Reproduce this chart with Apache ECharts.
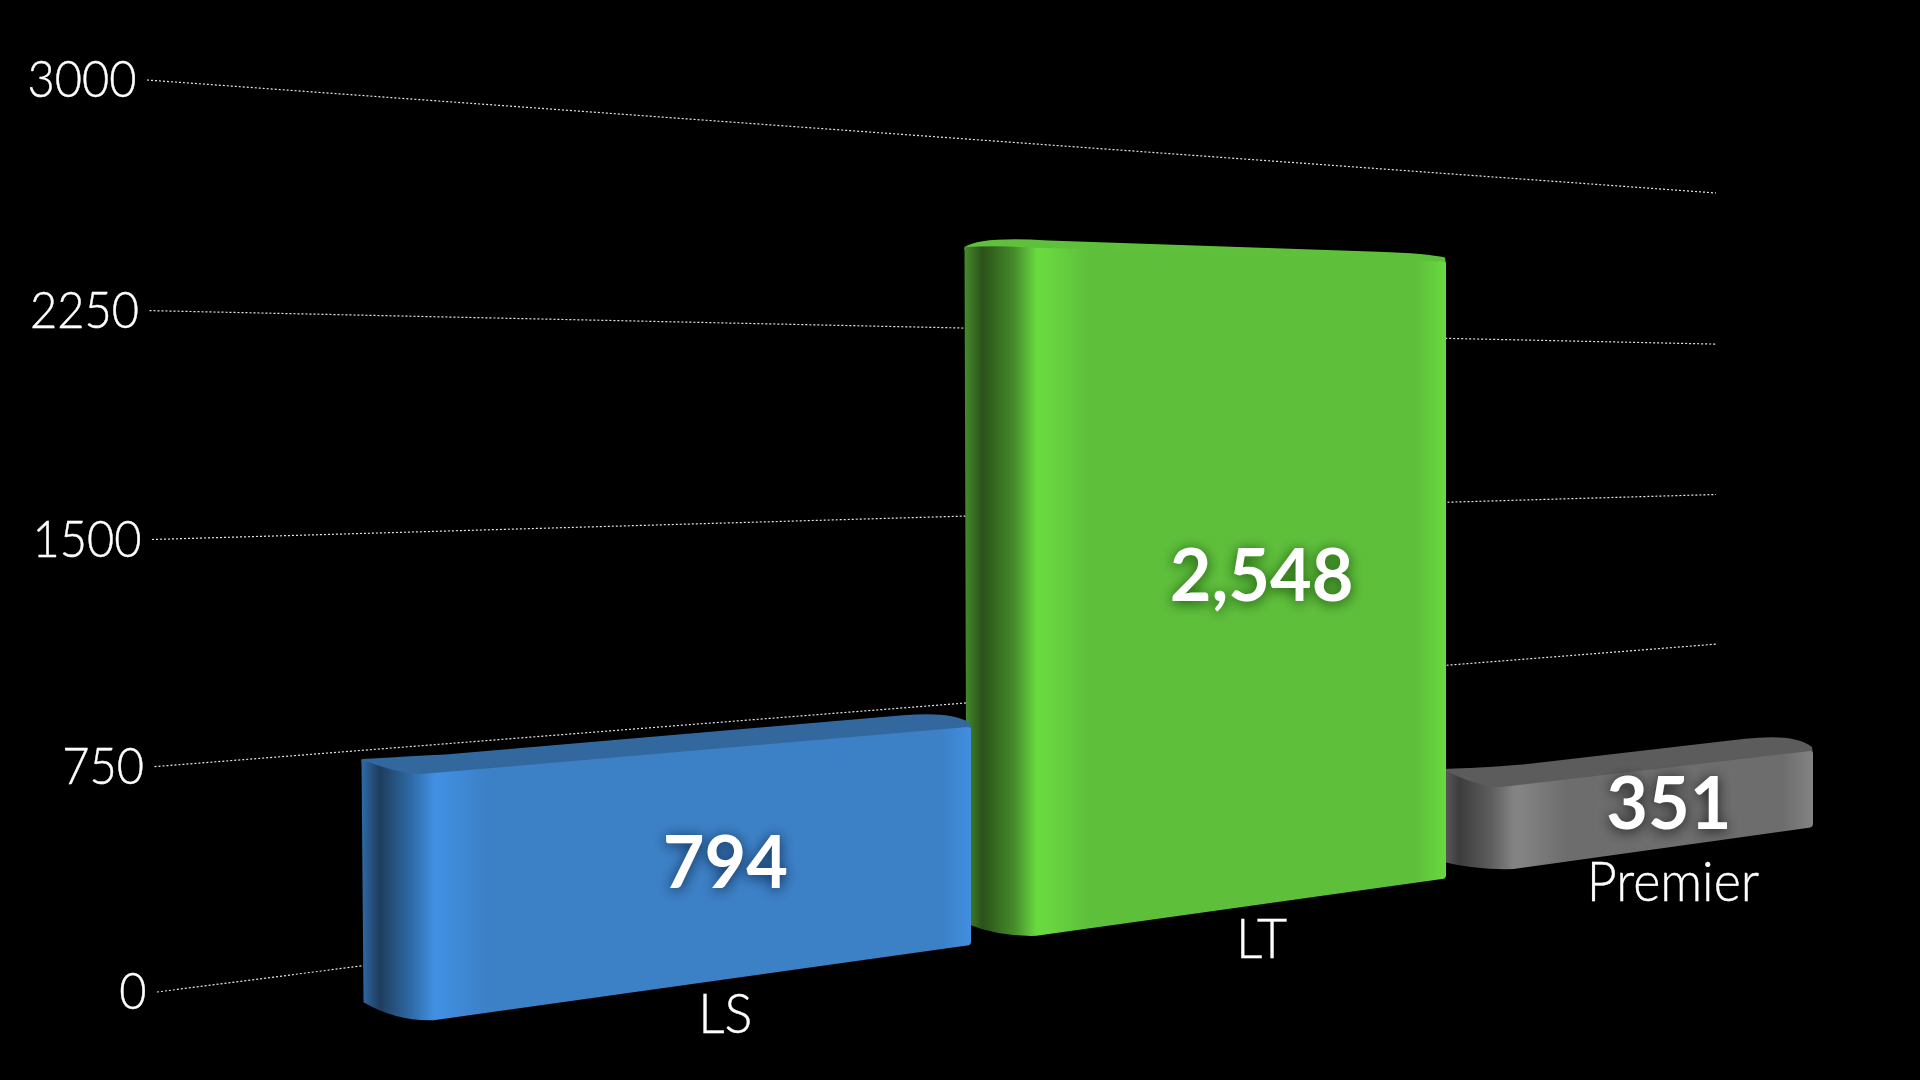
<!DOCTYPE html>
<html>
<head>
<meta charset="utf-8">
<style>html,body{margin:0;padding:0;background:#000}#c{width:1920px;height:1080px}</style>
<script src="https://cdn.jsdelivr.net/npm/echarts@6/dist/echarts.min.js"></script>
</head>
<body>
<div id="c"></div>
<script>
var categories = ['LS', 'LT', 'Premier'];
var barValues = [794, 2548, 351];
var valueLabels = ['794', '2,548', '351'];
var tickValues = [0, 750, 1500, 2250, 3000];
var tickLabels = ['0', '750', '1500', '2250', '3000'];

// colours: dark side, mid side, highlight, flat front, top face
var barDark = ['#1f3d5e', '#2a5219', '#3d3d3d'];
var barMid = ['#2f6aa6', '#468c2c', '#5e5e5e'];
var barHigh = ['#418fe0', '#69d940', '#838383'];
var barFlat = ['#3c80c6', '#5ebf3b', '#6d6d6d'];
var barTop = ['#33689f', '#5fc03b', '#5c5c5c'];
var shadowCol = ['rgba(10,35,70,.95)', 'rgba(20,70,10,.95)', 'rgba(20,20,20,.95)'];

// projection of the flat hidden grid on to the tilted scene
var FONT = 'Lato, "Noto Sans", sans-serif';
var bandEdges = [366, 971, 1446, 1813];
var leftLap = [4.5, 6.5, 4.5];
var valueBias = [0.597, 0.617, 0.612];
var nameBias = [0.597, 0.617, 0.623];
var valueNudge = [1, -2.5, -1.5];
var SIDE = 58;
function bottomY(x) { return 1021 - 0.14 * (x - 428); }
function fullH(x) { return 935 - 0.205 * (x - 428); }
function frontY(x, f) { return bottomY(x) - f * fullH(x); }
function fracOf(cs, py) { return (cs.y + cs.height - py) / cs.height; }
function bandX(cs, px) {
  var u = (px - cs.x) / cs.width * 3, i = Math.min(2, Math.floor(u));
  return bandEdges[i] + (u - i) * (bandEdges[i + 1] - bandEdges[i]);
}

function renderWall(params, api) {
  var cs = params.coordSys;
  var val = api.value(0);
  var f = fracOf(cs, api.coord([0, val])[1]);
  var lx = 157 - 10 * f, ly = 992 - 912 * f + 14 * f * (1 - f);
  var rx = 1716, ry = 793 - 600 * f + 6 * f * (1 - f);
  return { type: 'group', children: [
    { type: 'line', z2: 1, silent: true,
      shape: { x1: lx, y1: ly, x2: rx, y2: ry },
      style: { stroke: '#e6e6e6', lineWidth: 1.2, lineDash: [2, 2] } },
    { type: 'text', z2: 1, silent: true, x: lx - 10.5, y: ly + 0.5, scaleY: 1.1,
      style: { text: tickLabels[params.dataIndex], x: 0, y: 0, fill: '#fff',
        stroke: '#fff', lineWidth: 0.4,
        font: '300 47px ' + FONT, textAlign: 'right', textVerticalAlign: 'middle' } }
  ] };
}

function renderBar(params, api) {
  var cs = params.coordSys, i = params.dataIndex;
  var c = api.coord([i, api.value(1)]);
  var bw = api.size([1, 0])[0];
  var f = fracOf(cs, c[1]);
  var x0 = bandX(cs, c[0] - bw / 2 + 0.01) - leftLap[i];
  var x1 = bandEdges[i + 1];
  var w = x1 - x0;
  var xf = x0 + SIDE;
  var depth = 22 - 17 * f;
  var tipY = frontY(x0, f) - 30 + 37.6 * f;
  var fy = frontY(xf, f), ry = frontY(x1, f);
  var back = function (x) { return frontY(x, f) - depth; };
  var rise = 0.046 * w;
  var by0 = bottomY(x0) - rise, bxf = x0 + 72, byf = bottomY(bxf);
  var z = 10 + (3 - i) * 3;
  var ctrlX = x0 + SIDE * 0.55;

  var topPath =
    'M' + x0 + ' ' + tipY +
    'Q' + (x0 + 16) + ' ' + (back(x0 + 20) - 2) + ' ' + (x0 + 84) + ' ' + back(x0 + 84) +
    'L' + (x1 - 68) + ' ' + back(x1 - 68) +
    'Q' + (x1 - 18) + ' ' + back(x1 - 20) + ' ' + (x1 - 1) + ' ' + (ry - 4) +
    'L' + x1 + ' ' + (ry + 3) + 'L' + xf + ' ' + (fy + 3) +
    'Q' + ctrlX + ' ' + (fy + 1) + ' ' + x0 + ' ' + (tipY + 3) + 'Z';
  var bodyPath =
    'M' + x0 + ' ' + tipY +
    'Q' + ctrlX + ' ' + (fy - 2) + ' ' + xf + ' ' + fy +
    'L' + (x1 - 3) + ' ' + ry +
    'Q' + x1 + ' ' + ry + ' ' + x1 + ' ' + (ry + 3) +
    'L' + x1 + ' ' + (bottomY(x1) - 3) +
    'Q' + x1 + ' ' + bottomY(x1) + ' ' + (x1 - 4) + ' ' + bottomY(x1 - 4) +
    'L' + bxf + ' ' + byf +
    'Q' + (x0 + 34) + ' ' + (byf + 1) + ' ' + (x0 + 2) + ' ' + by0 + 'Z';

  var p = function (px) { return Math.min(1, px / w); };
  var grad = new echarts.graphic.LinearGradient(0, 0, 1, 0, [
    { offset: 0, color: barMid[i] },
    { offset: p(18), color: barDark[i] },
    { offset: p(50), color: barMid[i] },
    { offset: p(72), color: barHigh[i] },
    { offset: p(80), color: barHigh[i] },
    { offset: p(125), color: barFlat[i] },
    { offset: 1 - 30 / w, color: barFlat[i] },
    { offset: 1, color: barHigh[i] }
  ]);

  var lx = x0 + w * valueBias[i];
  var nx = x0 + w * nameBias[i];
  var lb = bottomY(lx);
  var lm = lb - f * fullH(lx) / 2;
  return { type: 'group', children: [
    { type: 'path', z2: z, silent: true,
      shape: { pathData: topPath },
      style: { fill: barTop[i] } },
    { type: 'path', z2: z + 1, silent: true,
      shape: { pathData: bodyPath },
      style: { fill: grad } },
    { type: 'text', z2: 100, silent: true,
      style: { text: valueLabels[i], x: lx, y: lm + valueNudge[i], fill: '#fff',
        font: '700 72px ' + FONT, textAlign: 'center', textVerticalAlign: 'middle',
        textShadowBlur: 14, textShadowColor: shadowCol[i], textShadowOffsetY: 2,
        shadowBlur: 14, shadowColor: shadowCol[i], shadowOffsetY: 2 } },
    { type: 'text', z2: 100, silent: true, x: nx, y: lb + 36, scaleY: 1.05,
      style: { text: categories[i], x: 0, y: 0, fill: '#fff', stroke: '#fff', lineWidth: 0.4,
        font: '300 52px ' + FONT, textAlign: 'center', textVerticalAlign: 'middle' } }
  ] };
}

var chart = echarts.init(document.getElementById('c'), null, { renderer: 'canvas' });
chart.setOption({
  backgroundColor: '#000',
  animation: false,
  grid: { left: 157, right: 204, top: 80, bottom: 88 },
  xAxis: { type: 'category', data: categories, show: false },
  yAxis: { type: 'value', min: 0, max: 3000, interval: 750, show: false },
  series: [
    { type: 'custom', renderItem: renderWall, clip: false, silent: true,
      data: tickValues.map(function (v) { return [v]; }), encode: { y: 0 } },
    { type: 'custom', renderItem: renderBar, clip: false, silent: true,
      data: barValues.map(function (v, i) { return [i, v]; }), encode: { x: 0, y: 1 } }
  ]
});
</script>
</body>
</html>
